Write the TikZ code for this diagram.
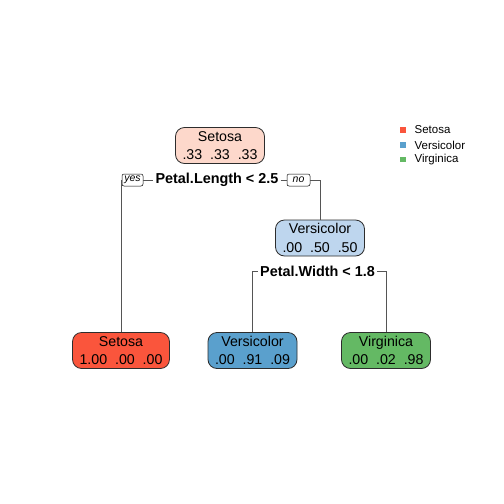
\documentclass[tikz,border=0pt]{standalone}
\usepackage{fontspec}
\setmainfont{Liberation Sans}
\usetikzlibrary{positioning}
\definecolor{setred}{RGB}{250,85,60}
\definecolor{verblue}{RGB}{90,160,205}
\definecolor{virgreen}{RGB}{100,185,100}
\definecolor{rootpink}{RGB}{253,216,203}
\definecolor{verpale}{RGB}{190,214,238}
\definecolor{edgegray}{RGB}{45,45,45}
\definecolor{branchgray}{RGB}{85,85,85}
\begin{document}
\begin{tikzpicture}[x=1pt,y=1pt,yscale=-1,xscale=1,
	treenode/.style={draw=edgegray, line width=0.8pt, rounded corners=9pt, minimum height=36pt, inner xsep=7pt, inner ysep=1pt, align=center, font=\fontsize{14.2}{18.5}\selectfont},
	splitlab/.style={fill=white, inner xsep=2pt, inner ysep=1pt, font=\fontsize{14.4}{16}\selectfont\bfseries},
	yesno/.style={draw=black, line width=0.5pt, fill=white, rounded corners=2pt, inner sep=0pt, minimum height=12pt, font=\fontsize{10.5}{12}\selectfont\itshape},
	branch/.style={draw=branchgray, line width=0.8pt},
	keybox/.style={inner sep=0pt, minimum size=5.5pt},
	keytext/.style={inner sep=0pt, font=\fontsize{11.5}{13}\selectfont}]
	%set diagram size
	\fill[white] (0,0) rectangle (504,504);
	\useasboundingbox (0,0) rectangle (504,504);

	%Shape: Rounded Rect [id:root]
	\node[treenode, fill=rootpink] (root) at (220,145.5) {Setosa\\.33\ \ .33\ \ .33};
	%Shape: Rounded Rect [id:vers]
	\node[treenode, fill=verpale] (vers) at (320,238) {Versicolor\\.00\ \ .50\ \ .50};
	%Shape: Rounded Rect [id:leafset]
	\node[treenode, fill=setred] (leafset) at (121,350.5) {Setosa\\1.00\ \ .00\ \ .00};
	%Shape: Rounded Rect [id:leafver]
	\node[treenode, fill=verblue] (leafver) at (252.5,350.5) {Versicolor\\.00\ \ .91\ \ .09};
	%Shape: Rounded Rect [id:leafvir]
	\node[treenode, fill=virgreen] (leafvir) at (386,350.5) {Virginica\\.00\ \ .02\ \ .98};

	% Text Node
	\node[splitlab] (split1) at (217,180) {Petal.Length < 2.5};
	\node[yesno, minimum width=21pt] (yes) at (132.5,180) {yes};
	\node[yesno, minimum width=23pt] (no) at (298.5,180) {no};
	% Text Node
	\node[splitlab] (split2) at (317.5,271) {Petal.Width < 1.8};

	%Straight Lines
	\draw[branch] (leafset.north) |- (yes.west);
	\draw[branch] (yes.east) -- (split1.west);
	\draw[branch] (split1.east) -- (no.west);
	\draw[branch] (no.east) -| (vers.north);
	\draw[branch] (leafver.north) |- (split2.west);
	\draw[branch] (split2.east) -| (leafvir.north);

	%Legend
	\node[keybox, fill=setred] (keyset) at (403,130) {};
	\node[keybox, fill=verblue] (keyver) at (403,145) {};
	\node[keybox, fill=virgreen] (keyvir) at (403,159.5) {};
	\node[keytext, right=8.5pt of keyset] {Setosa};
	\node[keytext, right=8.5pt of keyver] {Versicolor};
	\node[keytext, right=8.5pt of keyvir] {Virginica};
\end{tikzpicture}
\end{document}
